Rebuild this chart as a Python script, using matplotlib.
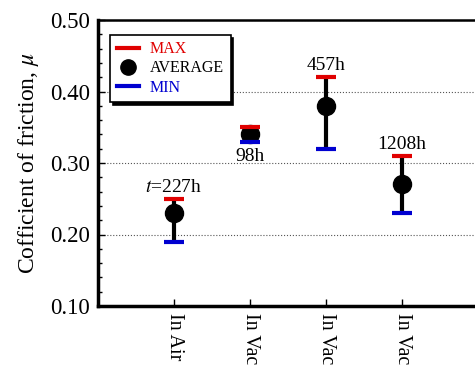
import numpy as np
import matplotlib
matplotlib.use('Agg')
import matplotlib.pyplot as plt
from matplotlib.lines import Line2D
from matplotlib.ticker import MultipleLocator

plt.rcParams['font.family'] = 'Liberation Serif'
plt.rcParams['mathtext.fontset'] = 'stix'

conditions = ['In Air', 'In Vac', 'In Vac', 'In Vac']
durations = ['$t$=227h', '98h', '457h', '1208h']
mu_max = [0.25, 0.35, 0.42, 0.31]
mu_avg = [0.23, 0.34, 0.38, 0.27]
mu_min = [0.19, 0.33, 0.32, 0.23]

x = np.arange(1, len(conditions) + 1)

fig = plt.figure(figsize=(4.75, 3.67), dpi=100)
ax = fig.add_axes([98 / 475, 1 - 306 / 367, 380 / 475, 286 / 367])

ax.vlines(x, mu_min, mu_max, color='black', lw=3, zorder=3)
ax.plot(x, mu_avg, 'o', color='black', ms=13, zorder=4)
ax.plot(x, mu_max, '_', color='#e00000', ms=15, mew=3, zorder=5)
ax.plot(x, mu_min, '_', color='#0000d0', ms=15, mew=3, zorder=5)

# time labels: above max, except the 98h one which sits below
for i, lab in enumerate(durations):
    if i == 1:
        ax.annotate(lab, (x[i], mu_min[i]), xytext=(0, -5), textcoords='offset points',
                    ha='center', va='top', fontsize=14)
    else:
        ax.annotate(lab, (x[i], mu_max[i]), xytext=(0, 2), textcoords='offset points',
                    ha='center', va='bottom', fontsize=14)

ax.set_xlim(0, 5)
ax.set_ylim(0.10, 0.50)
ax.set_xticks(x)
ax.set_xticklabels(conditions, rotation=-90, fontsize=14.5)
ax.set_yticks([0.10, 0.20, 0.30, 0.40, 0.50])
ax.set_yticklabels(['0.10', '0.20', '0.30', '0.40', '0.50'], fontsize=16.5)
ax.yaxis.set_minor_locator(MultipleLocator(0.02))
ax.tick_params(axis='both', which='major', direction='in', length=5, width=1, pad=6)
ax.tick_params(axis='x', which='major', pad=5)
ax.tick_params(axis='y', which='minor', direction='in', length=3, width=1)
ax.set_ylabel('Cofficient of friction, $\\mu$', fontsize=17, labelpad=6)

ax.yaxis.grid(True, linestyle=':', color='#555555', lw=0.8)
ax.set_axisbelow(True)

ax.spines['left'].set_linewidth(2.5)
ax.spines['bottom'].set_linewidth(2.5)
ax.spines['top'].set_linewidth(1.8)
ax.spines['right'].set_visible(False)

handles = [
    Line2D([], [], color='#e00000', lw=3),
    Line2D([], [], marker='o', color='black', ls='none', ms=11),
    Line2D([], [], color='#0000d0', lw=3),
]
leg = ax.legend(handles, ['MAX', 'AVERAGE', 'MIN'], loc='upper left',
                bbox_to_anchor=(0.032, 0.948), borderaxespad=0, fontsize=11.5,
                frameon=True, fancybox=False, edgecolor='black', framealpha=1,
                shadow={'color': 'black', 'alpha': 1}, handlelength=1.4,
                labelspacing=0.2, borderpad=0.4, handletextpad=0.7)
leg.get_frame().set_linewidth(1.2)
for t, c in zip(leg.get_texts(), ['#e00000', 'black', '#0000d0']):
    t.set_color(c)

fig.savefig('out.png', dpi=100)
plt.close()
